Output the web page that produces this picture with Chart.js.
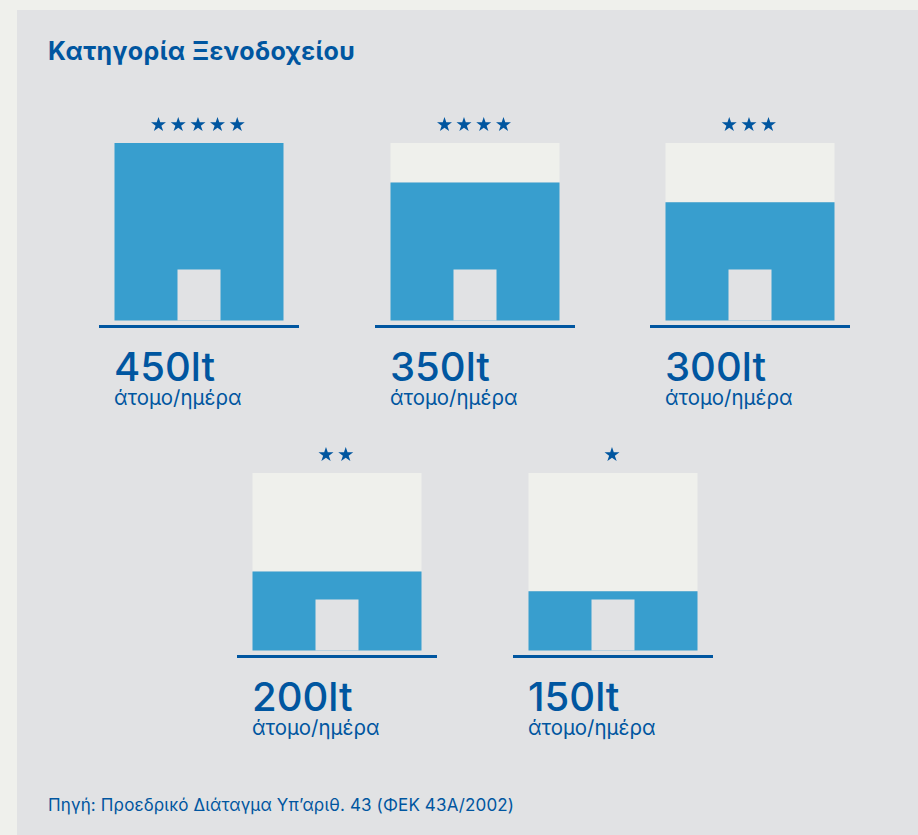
<!DOCTYPE html>
<html lang="el">
<head>
<meta charset="utf-8">
<title>Κατηγορία Ξενοδοχείου</title>
<script src="https://cdn.jsdelivr.net/npm/chart.js@4"></script>
<style>
html,body{margin:0;padding:0;background:#EFF0EC;}
body{width:918px;height:835px;position:relative;overflow:hidden;font-family:Inter,"Noto Sans",sans-serif;color:#0056A0;}
#panel{position:absolute;left:17px;top:10px;width:901px;height:825px;background:#E1E2E4;}
#heading{position:absolute;left:48px;top:37px;font-size:25px;font-weight:700;line-height:28px;white-space:nowrap;letter-spacing:.4px;}
#source{position:absolute;left:48px;top:795px;font-size:17px;line-height:20px;white-space:nowrap;letter-spacing:.14px;}
.unit{position:absolute;}
.unit canvas{position:absolute;left:0;top:0;}
.val{position:absolute;font-size:40px;font-weight:500;line-height:40px;white-space:nowrap;}
.per{position:absolute;font-size:20.4px;line-height:22px;white-space:nowrap;}
</style>
</head>
<body>
<div id="panel"></div>
<div id="heading">Κατηγορία Ξενοδοχείου</div>
<div id="source">Πηγή: Προεδρικό Διάταγμα Υπ’αριθ. 43 (ΦΕΚ 43Α/2002)</div>
<script>
const categories = ["5 αστέρων", "4 αστέρων", "3 αστέρων", "2 αστέρων", "1 αστέρα"];
const starCounts = [5, 4, 3, 2, 1];
const litres = [450, 350, 300, 200, 150];
const capacity = 450;
const doorHeight = 129;
const unitLabel = "lt";
const perLabel = "άτομο/ημέρα";
const slotLeft = [99, 375, 650, 237, 513];
const slotTop = [110, 110, 110, 440, 440];

const BLUE = "#389ECE", DARK = "#0056A0", LIGHT = "#EFF0EC", PANEL = "#E1E2E4";
const W = 200, H = 220, barW = 169, doorW = 43;

const spacing = {
  id: "spacing",
  beforeDraw(c) { c.ctx.letterSpacing = "2.2px"; },
  afterDraw(c) { c.ctx.letterSpacing = "0px"; }
};

categories.forEach((cat, i) => {
  const box = document.createElement("div");
  box.className = "unit";
  box.style.cssText = `left:${slotLeft[i]}px;top:${slotTop[i]}px;width:${W}px;height:${H + 90}px;`;
  const cv = document.createElement("canvas");
  cv.width = W; cv.height = H;
  cv.style.width = W + "px"; cv.style.height = H + "px";
  box.appendChild(cv);
  const val = document.createElement("div");
  val.className = "val";
  val.style.cssText = `left:15px;top:237px;`;
  val.textContent = litres[i] + unitLabel;
  box.appendChild(val);
  const per = document.createElement("div");
  per.className = "per";
  per.style.cssText = `left:15px;top:277px;`;
  per.textContent = perLabel;
  box.appendChild(per);
  document.body.appendChild(box);

  new Chart(cv, {
    type: "bar",
    data: {
      labels: [cat],
      datasets: [
        { label: "Πόρτα", data: [doorHeight], backgroundColor: PANEL, stack: "door", order: 0, barPercentage: doorW / W },
        { label: "Κατανάλωση", data: [litres[i]], backgroundColor: BLUE, stack: "house", order: 1, barPercentage: barW / W },
        { label: "Υπόλοιπο", data: [capacity - litres[i]], backgroundColor: LIGHT, stack: "house", order: 2, barPercentage: barW / W }
      ]
    },
    plugins: [spacing],
    options: {
      responsive: false,
      animation: false,
      grouped: false,
      datasets: { bar: { grouped: false, categoryPercentage: 1, borderWidth: 0 } },
      layout: { padding: { left: 0, right: 0, top: 0, bottom: 4 } },
      plugins: {
        legend: { display: false },
        tooltip: { enabled: false },
        title: {
          display: true,
          text: "★".repeat(starCounts[i]),
          color: DARK,
          font: { family: "DejaVu Sans", size: 19.5, weight: "normal" },
          padding: { top: 4.5, bottom: 5.1 }
        }
      },
      scales: {
        x: {
          stacked: false,
          grid: { display: false, drawTicks: false },
          border: { display: true, color: DARK, width: 3 },
          ticks: { display: false }
        },
        y: {
          stacked: true,
          display: false,
          min: -14,
          max: capacity
        }
      }
    }
  });
});
</script>
</body>
</html>
